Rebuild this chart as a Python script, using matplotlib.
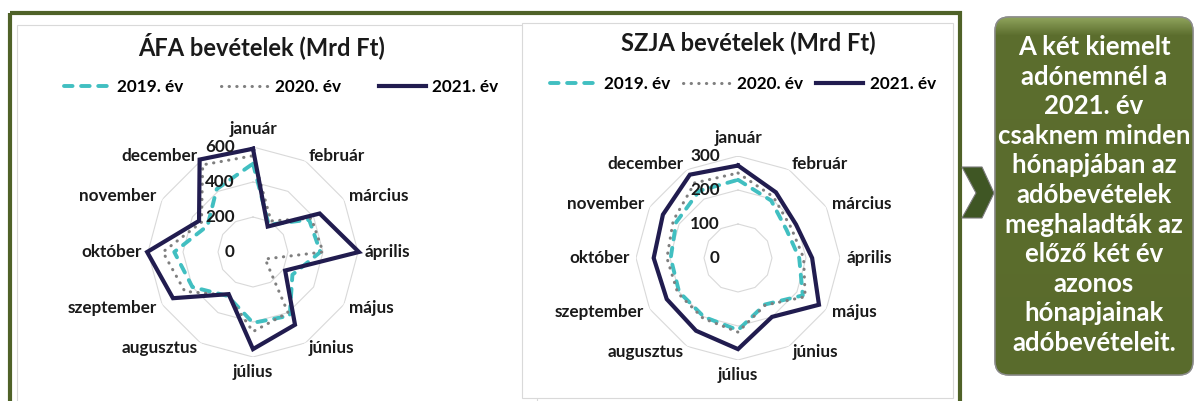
import numpy as np
import matplotlib.pyplot as plt
from matplotlib.patches import Rectangle, FancyBboxPatch, Polygon

months = ['január', 'február', 'március', 'április', 'május', 'június',
          'július', 'augusztus', 'szeptember', 'október', 'november', 'december']
years = ['2019. év', '2020. év', '2021. év']

# ÁFA bevételek (Mrd Ft)
afa_2019 = [505, 180, 370, 385, 260, 420, 405, 290, 400, 450, 300, 415]
afa_2020 = [550, 205, 385, 400, 80, 400, 455, 285, 450, 515, 340, 575]
afa_2021 = [590, 168, 440, 605, 212, 480, 555, 278, 528, 605, 356, 610]
afa_ticks = [0, 200, 400, 600]

# SZJA bevételek (Mrd Ft)
szja_2019 = [230, 195, 165, 180, 220, 158, 212, 200, 200, 198, 210, 228]
szja_2020 = [250, 208, 180, 193, 228, 160, 218, 205, 205, 209, 220, 255]
szja_2021 = [272, 223, 197, 218, 275, 200, 268, 247, 242, 248, 255, 283]
szja_ticks = [0, 100, 200, 300]

note_lines = ['A két kiemelt', 'adónemnél a', '2021. év', 'csaknem minden',
              'hónapjában az', 'adóbevételek', 'meghaladták az', 'előző két év',
              'azonos', 'hónapjainak', 'adóbevételeit.']

W, H = 1195, 401
FONT = 'Lato'
TXT = '#1a1a1a'
TEAL = '#41bfc1'
GRAY = '#7f7f7f'
NAVY = '#211c4f'
GREEN = '#4f6228'

plt.rcParams['font.family'] = [FONT, 'DejaVu Sans']

fig = plt.figure(figsize=(W / 100, H / 100), dpi=100)
bg = fig.add_axes([0, 0, 1, 1])
bg.axis('off')

# frame and the two chart areas
bg.add_patch(Rectangle((10, 13), 950, 420, fill=False, ec=GREEN, lw=3))
bg.add_patch(Rectangle((17, 25), 520, 400, fc='white', ec='#d9d9d9', lw=0.8))
bg.add_patch(Rectangle((522, 23), 431, 375, fc='white', ec='#d9d9d9', lw=0.8))

# arrow and text box on the right
bg.add_patch(Polygon([(962, 167), (982, 167), (994, 193), (982, 218),
                      (962, 218), (976, 193)], closed=True,
                     fc='#3f5624', ec='#7a7a7a', lw=0.8))
box = FancyBboxPatch((995, 17), 198, 358,
                     boxstyle='round,pad=0,rounding_size=14',
                     fc='#5a6b2c', ec='#8c8c8c', lw=1)
bg.add_patch(box)
g = np.linspace(0, 1, 300)
top = np.array([0.56, 0.64, 0.36])
mid = np.array([0.36, 0.43, 0.18])
bot = np.array([0.33, 0.40, 0.16])
w = np.clip(g / 0.05, 0, 1)[:, None]
cols = top * (1 - w) + mid * w
cols = cols * (1 - g[:, None] * 0.3) + bot * g[:, None] * 0.3
img = bg.imshow(cols[:, None, :], extent=(995, 1193, 375, 17), aspect='auto',
                zorder=2)
img.set_clip_path(box)
bg.add_patch(FancyBboxPatch((995, 17), 198, 358,
                            boxstyle='round,pad=0,rounding_size=14',
                            fill=False, ec='#8c8c8c', lw=1, zorder=3))
for i, line in enumerate(note_lines):
    bg.text(1094, 47 + i * 29.6, line, ha='center', va='center', color='white',
            fontsize=18.5, weight='bold', zorder=4)

bg.set_xlim(0, W)
bg.set_ylim(H, 0)

styles = [dict(color=TEAL, lw=2.8, ls=(0, (2.2, 2.2)), dash_capstyle='round'),
          dict(color=GRAY, lw=2.2, ls=(0, (0.1, 2.4)), dash_capstyle='round'),
          dict(color=NAVY, lw=3.0, ls='-', solid_joinstyle='miter')]


def radar(cx, cy, rpx, ticks, series, title, tx, ty, lx, ly, colsp):
    ax = fig.add_axes([(cx - rpx) / W, (H - cy - rpx) / H, 2 * rpx / W, 2 * rpx / H],
                      projection='polar')
    ax.set_theta_offset(np.pi / 2)
    ax.set_theta_direction(-1)
    ax.set_ylim(0, ticks[-1])
    ax.axis('off')
    theta = np.linspace(0, 2 * np.pi, len(months), endpoint=False)
    closed = np.append(theta, theta[0])
    for t in ticks[1:]:
        ax.plot(closed, [t] * len(closed), color='#d9d9d9', lw=0.8, zorder=1)
    handles = []
    for vals, st in zip(series, styles):
        ln, = ax.plot(closed, list(vals) + [vals[0]], clip_on=False, zorder=3, **st)
        handles.append(ln)
    for th, m in zip(theta, months):
        s, c = np.sin(th), np.cos(th)
        if abs(s) < 0.1:
            ha, off = 'center', (0, 13 if c > 0 else -11)
        else:
            ha, off = ('left' if s > 0 else 'right'), (4.5 * s, 4.5 * c)
        ax.annotate(m, xy=(th, ticks[-1]), xytext=off, textcoords='offset points',
                    ha=ha, va='center', fontsize=12.3, weight='bold', color=TXT,
                    annotation_clip=False)
    for t in ticks:
        ax.annotate(str(t), xy=(0, t), xytext=(-13, 0), textcoords='offset points',
                    ha='right', va='center', fontsize=12.3, weight='bold', color=TXT,
                    annotation_clip=False)
    fig.text(tx / W, 1 - ty / H, title, ha='center', va='center', fontsize=17,
             weight='bold', color=TXT)
    fig.legend(handles, years, loc='center', bbox_to_anchor=(lx / W, 1 - ly / H),
               ncol=3, frameon=False, handlelength=2.75, handletextpad=0.4,
               columnspacing=colsp, prop=dict(family=FONT, weight='bold', size=12.3))


radar(253, 252, 105, afa_ticks, [afa_2019, afa_2020, afa_2021],
      'ÁFA bevételek (Mrd Ft)', 262, 46, 281, 87, 2.2)
radar(738, 258, 102, szja_ticks, [szja_2019, szja_2020, szja_2021],
      'SZJA bevételek (Mrd Ft)', 748, 43, 743, 84, 0.75)

fig.savefig('out.png', dpi=100)
